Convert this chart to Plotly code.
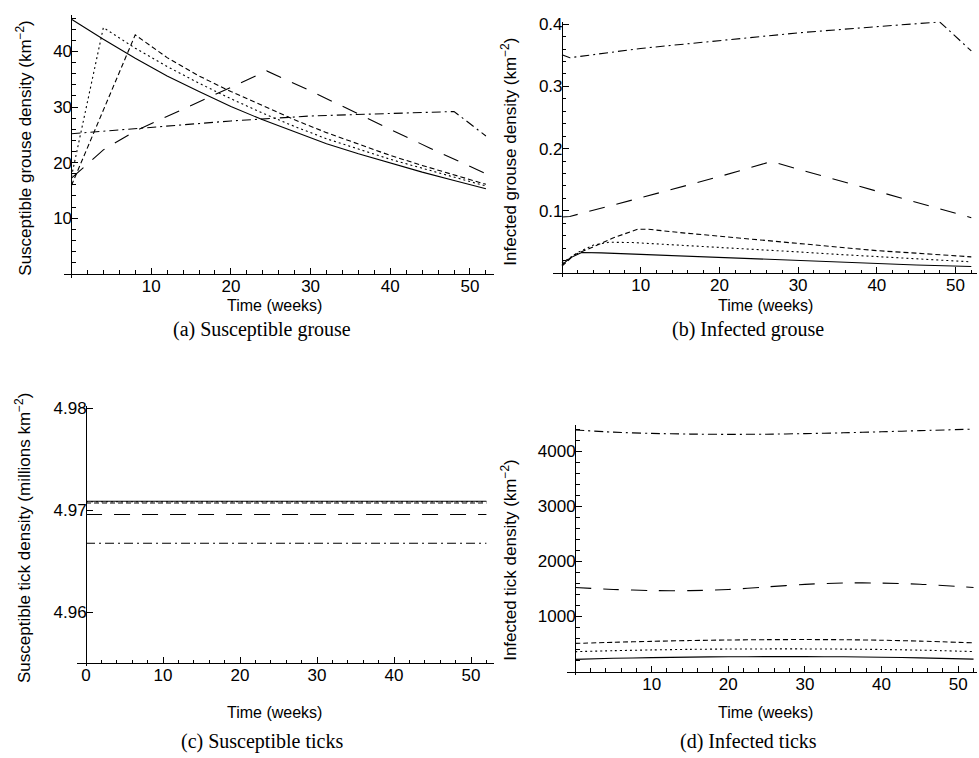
import plotly.graph_objects as go

# ---------------- data ----------------
# (a) Susceptible grouse density (km^-2)
sg_solid_wk = [0, 4, 8, 12, 16, 20, 24, 28, 32, 36, 40, 44, 48, 52]
sg_solid = [45.8, 42.2, 38.8, 35.6, 32.8, 30.1, 27.7, 25.5, 23.4, 21.6, 19.9, 18.3, 16.8, 15.3]
sg_dotted_wk = [0, 4, 8, 12, 16, 20, 24, 28, 32, 36, 40, 44, 48, 52]
sg_dotted = [17.5, 44.3, 40.6, 37.3, 34.3, 31.5, 28.9, 26.5, 24.3, 22.4, 20.6, 19.0, 17.4, 15.8]
sg_dashed_wk = [0, 8, 12, 16, 20, 24, 28, 32, 36, 40, 44, 48, 52]
sg_dashed = [15.9, 43.0, 38.9, 35.6, 32.8, 30.2, 27.7, 25.4, 23.3, 21.3, 19.5, 17.8, 16.1]
sg_longdash_wk = [0, 4, 8, 12, 16, 20, 24.5, 30, 35, 40, 45, 52]
sg_longdash = [17.2, 22.3, 25.7, 28.3, 31.0, 33.6, 36.5, 32.9, 29.4, 26.0, 22.6, 18.0]
sg_dashdot_wk = [0, 10, 20, 30, 40, 48, 52]
sg_dashdot = [25.2, 26.4, 27.5, 28.4, 28.9, 29.2, 24.8]

# (b) Infected grouse density (km^-2)
ig_solid_wk = [0, 1, 2.5, 5, 10, 15, 20, 25, 30, 35, 40, 45, 52]
ig_solid = [0.013, 0.024, 0.033, 0.0325, 0.030, 0.0275, 0.025, 0.0225, 0.0195, 0.017, 0.015, 0.013, 0.0105]
ig_dotted_wk = [0, 2, 4, 6, 9, 15, 20, 25, 30, 35, 40, 45, 52]
ig_dotted = [0.016, 0.033, 0.045, 0.0495, 0.049, 0.045, 0.0415, 0.038, 0.034, 0.030, 0.0265, 0.023, 0.018]
ig_dashed_wk = [0, 1.6, 4.1, 6.4, 9.6, 11, 15, 20, 25, 30, 35, 40, 45, 52]
ig_dashed = [0.011, 0.0295, 0.0427, 0.056, 0.0704, 0.0704, 0.065, 0.059, 0.053, 0.047, 0.041, 0.036, 0.032, 0.026]
ig_longdash_wk = [0, 1, 10, 20, 26, 27, 30, 40, 52]
ig_longdash = [0.090, 0.091, 0.121, 0.155, 0.177, 0.178, 0.167, 0.131, 0.089]
ig_dashdot_wk = [0, 1, 10, 20, 30, 40, 48, 52]
ig_dashdot = [0.351, 0.346, 0.361, 0.374, 0.386, 0.396, 0.4035, 0.357]

# (c) Susceptible tick density (millions km^-2)
st_wk = [0, 13, 26, 39, 52]
st_solid = [4.97088] * 5
st_dotted = [4.97082] * 5
st_dashed = [4.97070] * 5
st_longdash = [4.96957] * 5
st_dashdot = [4.96676] * 5

# (d) Infected tick density (km^-2)
it_wk = [0, 5, 10, 15, 20, 25, 30, 35, 40, 45, 52]
it_solid = [221, 240, 252, 262, 267, 270, 270, 267, 260, 248, 225]
it_dotted = [360, 378, 392, 402, 408, 410, 410, 407, 400, 388, 362]
it_dashed = [510, 530, 548, 562, 572, 578, 580, 577, 568, 552, 520]
it_longdash = [1525, 1490, 1470, 1468, 1488, 1535, 1582, 1607, 1605, 1585, 1525]
it_dashdot = [4385, 4345, 4322, 4310, 4305, 4308, 4318, 4333, 4352, 4372, 4400]

# tick labels
sg_yticks = [10, 20, 30, 40]
ig_yticks = [0.1, 0.2, 0.3, 0.4]
ig_yticktext = ["0.1", "0.2", "0.3", "0.4"]
st_yticks = [4.96, 4.97, 4.98]
st_yticktext = ["4.96", "4.97", "4.98"]
it_yticks = [1000, 2000, 3000, 4000]
week_ticks = [10, 20, 30, 40, 50]
week_ticks_c = [0, 10, 20, 30, 40, 50]

# ---------------- layout ----------------
W, H = 979, 758
SANS = "Liberation Sans, Arial, sans-serif"
SERIF = "Liberation Serif, Times New Roman, serif"

DASH = {
    "solid": "solid",
    "dotted": "2px,3px",
    "dashed": "5px,3px",
    "longdash": "16px,12px",
    "dashdot": "9px,4px,2px,4px",
}


def fx(px):
    return px / W


def fy(py):
    return 1 - py / H


# pixel frame of each panel: (x_left_px, x_right_px, xrange, y_bottom_px, y_top_px, yrange, ybase)
panels = {
    "a": (63.5, 493.9, [-1.0, 53.0], 273.2, 7.9, [-0.7, 46.6], 0.0),
    "b": (553.3, 976.8, [-1.1, 52.7], 272.3, 14.8, [-0.006, 0.404], 0.0),
    "c": (76.8, 494.1, [-1.2, 53.0], 665.3, 402.9, [4.9547, 4.9802], 4.955),
    "d": (566.6, 976.6, [-1.1, 52.4], 674.6, 421.6, [-70, 4480], 0.0),
}

fig = go.Figure()

series = {
    "a": [(sg_solid_wk, sg_solid, "solid"), (sg_dotted_wk, sg_dotted, "dotted"),
          (sg_dashed_wk, sg_dashed, "dashed"), (sg_longdash_wk, sg_longdash, "longdash"),
          (sg_dashdot_wk, sg_dashdot, "dashdot")],
    "b": [(ig_solid_wk, ig_solid, "solid"), (ig_dotted_wk, ig_dotted, "dotted"),
          (ig_dashed_wk, ig_dashed, "dashed"), (ig_longdash_wk, ig_longdash, "longdash"),
          (ig_dashdot_wk, ig_dashdot, "dashdot")],
    "c": [(st_wk, st_solid, "solid"), (st_wk, st_dotted, "dotted"),
          (st_wk, st_dashed, "dashed"), (st_wk, st_longdash, "longdash"),
          (st_wk, st_dashdot, "dashdot")],
    "d": [(it_wk, it_solid, "solid"), (it_wk, it_dotted, "dotted"),
          (it_wk, it_dashed, "dashed"), (it_wk, it_longdash, "longdash"),
          (it_wk, it_dashdot, "dashdot")],
}

axis_ids = {"a": "", "b": "2", "c": "3", "d": "4"}

ytick_cfg = {
    "a": dict(tickvals=sg_yticks, ticktext=[str(v) for v in sg_yticks],
              minor=[v for v in range(0, 47, 2) if v % 10]),
    "b": dict(tickvals=ig_yticks, ticktext=ig_yticktext,
              minor=[round(v * 0.02, 2) for v in range(0, 21) if v % 5]),
    "c": dict(tickvals=st_yticks, ticktext=st_yticktext, minor=[]),
    "d": dict(tickvals=it_yticks, ticktext=[str(v) for v in it_yticks],
              minor=[v for v in range(0, 4401, 200) if v % 1000]),
}
xtick_cfg = {
    "a": week_ticks, "b": week_ticks, "c": week_ticks_c, "d": week_ticks,
}
week_minor = [v for v in range(0, 53, 2) if v % 10]

TICKFONT = dict(family=SANS, size=17, color="black")

layout_axes = {}
for key, (xl, xr, xrng, yb, yt, yrng, ybase) in panels.items():
    sfx = axis_ids[key]
    # screen position of the axes' crossing point
    x0_px = xl + (0 - xrng[0]) / (xrng[1] - xrng[0]) * (xr - xl)
    yb_py = yb - (ybase - yrng[0]) / (yrng[1] - yrng[0]) * (yb - yt)
    for x, y, style in series[key]:
        fig.add_trace(go.Scatter(
            x=x, y=y, mode="lines",
            line=dict(color="black", width=1.1, dash=DASH[style],
                      shape="spline" if key == "d" else "linear", smoothing=0.8),
            xaxis="x" + sfx, yaxis="y" + sfx, showlegend=False, hoverinfo="skip",
        ))
    layout_axes["xaxis" + sfx] = dict(
        domain=[fx(xl), fx(xr)], range=xrng, anchor="free", position=fy(yb_py),
        showline=True, linecolor="black", linewidth=1, showgrid=False, zeroline=False,
        tickmode="array", tickvals=xtick_cfg[key], ticktext=[str(v) for v in xtick_cfg[key]],
        ticks="inside", ticklen=6, tickwidth=1, tickcolor="black",
        minor=dict(tickmode="array", tickvals=week_minor, ticks="inside", ticklen=3.5,
                   tickwidth=1, tickcolor="black", showgrid=False),
        tickfont=TICKFONT, ticklabelstandoff=-3,
    )
    yc = ytick_cfg[key]
    layout_axes["yaxis" + sfx] = dict(
        domain=[fy(yb), fy(yt)], range=yrng, anchor="free", position=fx(x0_px),
        showline=True, linecolor="black", linewidth=1, showgrid=False, zeroline=False,
        tickmode="array", tickvals=yc["tickvals"], ticktext=yc["ticktext"],
        ticks="inside", ticklen=6, tickwidth=1, tickcolor="black",
        minor=dict(tickmode="array", tickvals=yc["minor"], ticks="inside", ticklen=3.5,
                   tickwidth=1, tickcolor="black", showgrid=False),
        tickfont=TICKFONT, ticklabelstandoff=-4,
    )

annotations = []


def text(px, py, s, size, family, angle=0):
    annotations.append(dict(
        x=fx(px), y=fy(py), xref="paper", yref="paper", text=s, showarrow=False,
        xanchor="center", yanchor="middle", textangle=angle,
        font=dict(family=family, size=size, color="black"),
    ))


# axis titles
text(274, 301, "Time (weeks)", 16, SANS)
text(765, 301, "Time (weeks)", 16, SANS)
text(274, 712, "Time (weeks)", 16, SANS)
text(765, 712, "Time (weeks)", 16, SANS)
text(24, 143, "Susceptible grouse density (km<sup>−2</sup>)", 17, SANS, -90)
text(509, 146, "Infected grouse density (km<sup>−2</sup>)", 17, SANS, -90)
text(23, 536, "Susceptible tick density (millions km<sup>−2</sup>)", 17, SANS, -90)
text(509, 558, "Infected tick density (km<sup>−2</sup>)", 17, SANS, -90)

# panel captions
text(262, 326, "(a) Susceptible grouse", 20, SERIF)
text(748, 326, "(b) Infected grouse", 20, SERIF)
text(262, 741, "(c) Susceptible ticks", 20, SERIF)
text(748, 741, "(d) Infected ticks", 20, SERIF)

fig.update_layout(
    width=W, height=H, margin=dict(l=0, r=0, t=0, b=0),
    paper_bgcolor="white", plot_bgcolor="white",
    annotations=annotations, showlegend=False,
    **layout_axes,
)

fig.write_html("out.html")
